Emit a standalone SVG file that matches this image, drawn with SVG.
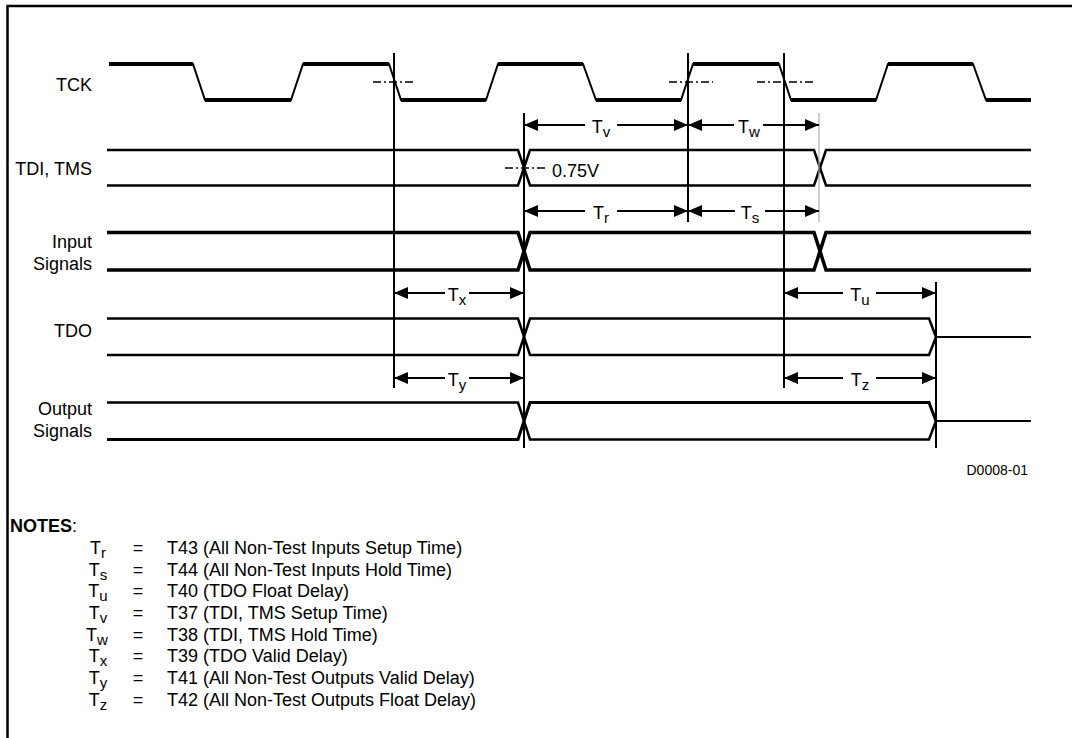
<svg xmlns="http://www.w3.org/2000/svg" width="1072" height="738" viewBox="0 0 1072 738">
<style>
text{font-family:"Liberation Sans",Arial,sans-serif;font-size:18px;fill:#000}
.lbl{text-anchor:end}
.dim{text-anchor:middle}
.sub{font-size:15px}
.wave{fill:none;stroke:#000;stroke-linejoin:miter}
.ref{stroke:#000;stroke-width:2}
.arr{stroke:#000;stroke-width:2;fill:none}
.dd{stroke:#000;stroke-width:1.5;stroke-dasharray:8 3 2 3;fill:none}
.note{font-size:18px}
</style>
<defs>
<marker id="ah" viewBox="0 0 14 12" refX="14" refY="6" markerWidth="14" markerHeight="12" markerUnits="userSpaceOnUse" orient="auto-start-reverse">
<path d="M0,0 L14,6 L0,12 z" fill="#000"/>
</marker>
</defs>
<rect width="1072" height="738" fill="#fff"/>
<g id="border">
<path d="M7.5,738 V6 H1072" fill="none" stroke="#000" stroke-width="2.5"/>
</g>
<g id="sig-tck">
<text class="lbl" x="92" y="91">TCK</text>
<path class="wave" stroke-width="2" d="M109,64 H193 L205,100 H291 L303,64 H389 L401,100 H486 L498,64 H583 L596,100 H681 L693,64 H779 L791,100 H876 L888,64 H973 L986,100 H1031"/>
<path class="wave" stroke-width="4" d="M109,64 H193 M205,100 H291 M303,64 H389 M401,100 H486 M498,64 H583 M596,100 H681 M693,64 H779 M791,100 H876 M888,64 H973 M986,100 H1031"/>
<path class="dd" d="M373,82 H415 M669,82 H713 M757,82 H813"/>
</g>
<g id="sig-tdi">
<text class="lbl" x="92" y="175">TDI, TMS</text>
<path class="wave" stroke-width="2.5" d="M107,150 H518 L530,185.5 H814 L826,150 H1031"/>
<path class="wave" stroke-width="2.5" d="M107,185.5 H518 L530,150 H814 L826,185.5 H1031"/>
<path class="dd" d="M505,168 H547"/>
<text x="552" y="177">0.75V</text>
</g>
<g id="sig-input">
<text class="lbl" x="92" y="248">Input</text>
<text class="lbl" x="92" y="270">Signals</text>
<path class="wave" stroke-width="3.5" d="M107,232.5 H518 L530,270 H814 L826,232.5 H1031"/>
<path class="wave" stroke-width="3.5" d="M107,270 H518 L530,232.5 H814 L826,270 H1031"/>
</g>
<g id="sig-tdo">
<text class="lbl" x="92" y="337">TDO</text>
<path class="wave" stroke-width="2.5" d="M107,318.5 H518 L530,355 H929 L936,337"/>
<path class="wave" stroke-width="2.5" d="M107,355 H518 L530,318.5 H929 L936,337"/>
<path class="wave" stroke-width="2" d="M936,337 H1031"/>
</g>
<g id="sig-output">
<text class="lbl" x="92" y="415">Output</text>
<text class="lbl" x="92" y="437">Signals</text>
<path class="wave" stroke-width="2.5" d="M107,402.5 H518 L530,439.5 H929 L936,421"/>
<path class="wave" stroke-width="3" d="M107,439.5 H518 L530,402.5 H929 L936,421"/>
<path class="wave" stroke-width="2" d="M936,421 H1031"/>
</g>
<g id="connectors">
<line class="ref" x1="394" y1="53" x2="394" y2="388"/>
<line class="ref" x1="524" y1="113" x2="524" y2="448"/>
<line class="ref" x1="688" y1="53" x2="688" y2="222"/>
<line class="ref" x1="784" y1="53" x2="784" y2="388"/>
<line x1="819" y1="113" x2="819" y2="222" stroke="#aaa" stroke-width="1.2"/>
<line class="ref" x1="936" y1="282" x2="936" y2="448"/>
<g id="dim-tv">
<path class="arr" d="M524,125 H585" marker-start="url(#ah)"/>
<path class="arr" d="M617,125 H688" marker-end="url(#ah)"/>
<text class="dim" x="601" y="133">T<tspan class="sub" dy="4">v</tspan></text>
</g>
<g id="dim-tw">
<path class="arr" d="M688,125 H734" marker-start="url(#ah)"/>
<path class="arr" d="M763,125 H819" marker-end="url(#ah)"/>
<text class="dim" x="749" y="133">T<tspan class="sub" dy="4">w</tspan></text>
</g>
<g id="dim-tr">
<path class="arr" d="M524,211 H585" marker-start="url(#ah)"/>
<path class="arr" d="M617,211 H688" marker-end="url(#ah)"/>
<text class="dim" x="601" y="219">T<tspan class="sub" dy="4">r</tspan></text>
</g>
<g id="dim-ts">
<path class="arr" d="M688,211 H735" marker-start="url(#ah)"/>
<path class="arr" d="M765,211 H819" marker-end="url(#ah)"/>
<text class="dim" x="750" y="219">T<tspan class="sub" dy="4">s</tspan></text>
</g>
<g id="dim-tx">
<path class="arr" d="M394,293 H445" marker-start="url(#ah)"/>
<path class="arr" d="M469,293 H524" marker-end="url(#ah)"/>
<text class="dim" x="457" y="301">T<tspan class="sub" dy="4">x</tspan></text>
</g>
<g id="dim-tu">
<path class="arr" d="M784,293 H843" marker-start="url(#ah)"/>
<path class="arr" d="M876,293 H936" marker-end="url(#ah)"/>
<text class="dim" x="860" y="301">T<tspan class="sub" dy="4">u</tspan></text>
</g>
<g id="dim-ty">
<path class="arr" d="M394,378 H445" marker-start="url(#ah)"/>
<path class="arr" d="M469,378 H524" marker-end="url(#ah)"/>
<text class="dim" x="457" y="386">T<tspan class="sub" dy="4">y</tspan></text>
</g>
<g id="dim-tz">
<path class="arr" d="M784,378 H843" marker-start="url(#ah)"/>
<path class="arr" d="M876,378 H936" marker-end="url(#ah)"/>
<text class="dim" x="860" y="386">T<tspan class="sub" dy="4">z</tspan></text>
</g>
</g>
<text x="1028" y="475" text-anchor="end" style="font-size:14px">D0008-01</text>
<g id="notes">
<text x="10" y="532"><tspan font-weight="bold">NOTES</tspan>:</text>
<text class="dim" x="98" y="554">T<tspan class="sub" dy="4">r</tspan></text>
<text class="dim" x="138" y="554">=</text>
<text x="167" y="554">T43 (All Non-Test Inputs Setup Time)</text>
<text class="dim" x="98" y="576">T<tspan class="sub" dy="4">s</tspan></text>
<text class="dim" x="138" y="576">=</text>
<text x="167" y="576">T44 (All Non-Test Inputs Hold Time)</text>
<text class="dim" x="98" y="597">T<tspan class="sub" dy="4">u</tspan></text>
<text class="dim" x="138" y="597">=</text>
<text x="167" y="597">T40 (TDO Float Delay)</text>
<text class="dim" x="98" y="619">T<tspan class="sub" dy="4">v</tspan></text>
<text class="dim" x="138" y="619">=</text>
<text x="167" y="619">T37 (TDI, TMS Setup Time)</text>
<text class="dim" x="97" y="641">T<tspan class="sub" dy="4">w</tspan></text>
<text class="dim" x="138" y="641">=</text>
<text x="167" y="641">T38 (TDI, TMS Hold Time)</text>
<text class="dim" x="98" y="662">T<tspan class="sub" dy="4">x</tspan></text>
<text class="dim" x="138" y="662">=</text>
<text x="167" y="662">T39 (TDO Valid Delay)</text>
<text class="dim" x="98" y="684">T<tspan class="sub" dy="4">y</tspan></text>
<text class="dim" x="138" y="684">=</text>
<text x="167" y="684">T41 (All Non-Test Outputs Valid Delay)</text>
<text class="dim" x="98" y="706">T<tspan class="sub" dy="4">z</tspan></text>
<text class="dim" x="138" y="706">=</text>
<text x="167" y="706">T42 (All Non-Test Outputs Float Delay)</text>
</g>
</svg>
